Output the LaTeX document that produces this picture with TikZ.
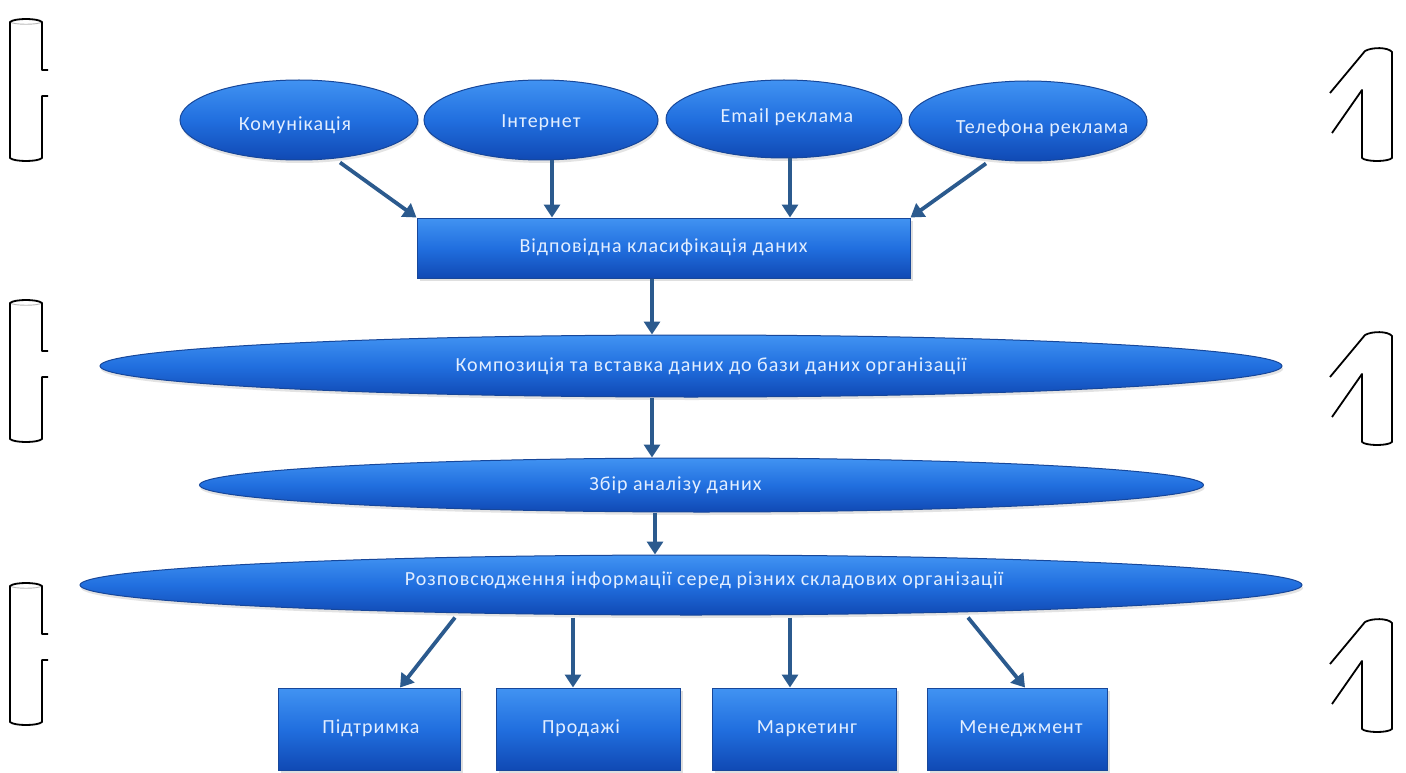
\documentclass[tikz,border=0pt]{standalone}
\usepackage{fontspec}
\setmainfont[LetterSpace=5]{Carlito}
\usetikzlibrary{shapes.geometric,arrows.meta,shadows}

\definecolor{bluetop}{HTML}{4193F2}
\definecolor{bluemid}{HTML}{216FDF}
\definecolor{bluebot}{HTML}{1049B4}
\definecolor{blueedge}{HTML}{17479A}
\definecolor{arrowcol}{HTML}{2B5A8E}
\definecolor{labelcol}{HTML}{E2EEFF}

\tikzset{
  blob/.style={ellipse, draw=blueedge, line width=1pt,
    top color=bluetop, bottom color=bluebot, middle color=bluemid,
    inner sep=0pt, text=labelcol, font=\fontsize{20}{23}\selectfont,
    drop shadow={opacity=0.22, shadow xshift=1pt, shadow yshift=-3pt}},
  panel/.style={rectangle, draw=blueedge, line width=1pt,
    top color=bluetop, bottom color=bluebot, middle color=bluemid,
    inner sep=0pt, text=labelcol, font=\fontsize{20}{23}\selectfont,
    drop shadow={opacity=0.25, shadow xshift=3pt, shadow yshift=-3pt}},
  flow/.style={draw=arrowcol, line width=3.8pt,
    -{Triangle[length=13pt,width=16pt]}},
  outline/.style={black, line width=1.8pt, line join=round},
  faint/.style={gray!55, line width=0.9pt}
}
% caption set with its baseline on the node centre: #1 = horizontal kern,
% #2 = vertical raise, #3 = text
\newcommand{\boxtext}[3]{\makebox[0pt]{\raisebox{#2}[0pt][0pt]{\kern#1\relax #3}}}

\begin{document}
\begin{tikzpicture}[x=1pt,y=-1pt]
\useasboundingbox[fill=white] (0,0) rectangle (1406,773);

% source channels
\node[blob, minimum width=238pt, minimum height=80pt] (kom) at (299,120) {\boxtext{-8pt}{-10.5pt}{Комунікація}};
\node[blob, minimum width=234pt, minimum height=80pt] (inet) at (541,120) {\boxtext{0pt}{-7.5pt}{Інтернет}};
\node[blob, minimum width=236pt, minimum height=78pt] (mail) at (784,119) {\boxtext{6pt}{-3.5pt}{Email реклама}};
\node[blob, minimum width=238pt, minimum height=80pt] (tel) at (1028,121) {\boxtext{28pt}{-12.5pt}{Телефона реклама}};

% classification
\node[panel, minimum width=493pt, minimum height=60pt] (cls) at (663.5,248) {\boxtext{0pt}{-4.5pt}{Відповідна класифікація даних}};

% processing stages
\node[blob, minimum width=1182pt, minimum height=62pt] (comp) at (691,366) {\boxtext{40pt}{-5.5pt}{Композиція та вставка даних до бази даних організації}};
\node[blob, minimum width=1004pt, minimum height=54pt] (zbir) at (701.5,485) {\boxtext{-52pt}{-5.5pt}{Збір аналізу даних}};
\node[blob, minimum width=1222pt, minimum height=60pt] (dist) at (691,585) {\boxtext{26pt}{-0.5pt}{Розповсюдження інформації серед різних складових організації}};

% departments
\node[panel, minimum width=182pt, minimum height=82pt] (sup) at (369,729) {\boxtext{4pt}{-4.5pt}{Підтримка}};
\node[panel, minimum width=184pt, minimum height=82pt] (sale) at (588,729) {\boxtext{-14pt}{-4.5pt}{Продажі}};
\node[panel, minimum width=184pt, minimum height=82pt] (mkt) at (804,729) {\boxtext{6pt}{-4.5pt}{Маркетинг}};
\node[panel, minimum width=180pt, minimum height=82pt] (mgmt) at (1017,729) {\boxtext{8pt}{-4.5pt}{Менеджмент}};

% vertical spine
\coordinate (spine) at (652,0);
\coordinate (spineb) at (655,0);

% connectors
\draw[flow] ([xshift=41pt,yshift=-2pt]kom.south) -- (cls.north west);
\draw[flow] ([xshift=11pt]inet.south) -- ([xshift=11pt]inet.south |- cls.north);
\draw[flow] ([xshift=6pt]mail.south) -- ([xshift=6pt]mail.south |- cls.north);
\draw[flow] ([xshift=-42pt,yshift=-2pt]tel.south) -- (cls.north east);
\draw[flow] (cls.south -| spine) -- (comp.north -| spine);
\draw[flow] (comp.south -| spine) -- (zbir.north -| spine);
\draw[flow] (zbir.south -| spineb) -- (dist.north -| spineb);
\draw[flow] ([xshift=-236pt,yshift=-2pt]dist.south) -- ([xshift=31pt]sup.north);
\draw[flow] ([xshift=-15pt,yshift=-2pt]sale.north |- dist.south) -- ([xshift=-15pt]sale.north);
\draw[flow] ([xshift=-14pt,yshift=-2pt]mkt.north |- dist.south) -- ([xshift=-14pt]mkt.north);
\draw[flow] ([xshift=277pt,yshift=-2pt]dist.south) -- ([xshift=8pt]mgmt.north);

% left brackets
\foreach \d in {0,281,564}{
  \begin{scope}[yshift=-\d pt]
    \draw[faint] (10,22) .. controls (14,25) and (38,25) .. (42,22);
    \draw[outline] (48,70) -- (42,70) -- (42,22)
      .. controls (38,18) and (14,18) .. (10,22) -- (10,158)
      .. controls (14,162) and (38,162) .. (42,158) -- (42,96) -- (48,96);
  \end{scope}
}

% right figures
\foreach \d in {0,284,571}{
  \begin{scope}[yshift=-\d pt]
    \draw[outline] (1330,93) -- (1365,51)
      .. controls (1372,47) and (1388,47) .. (1392,52) -- (1392,158)
      .. controls (1388,162) and (1366,162) .. (1362,158) -- (1362,90) -- (1332,133);
  \end{scope}
}
\end{tikzpicture}
\end{document}
